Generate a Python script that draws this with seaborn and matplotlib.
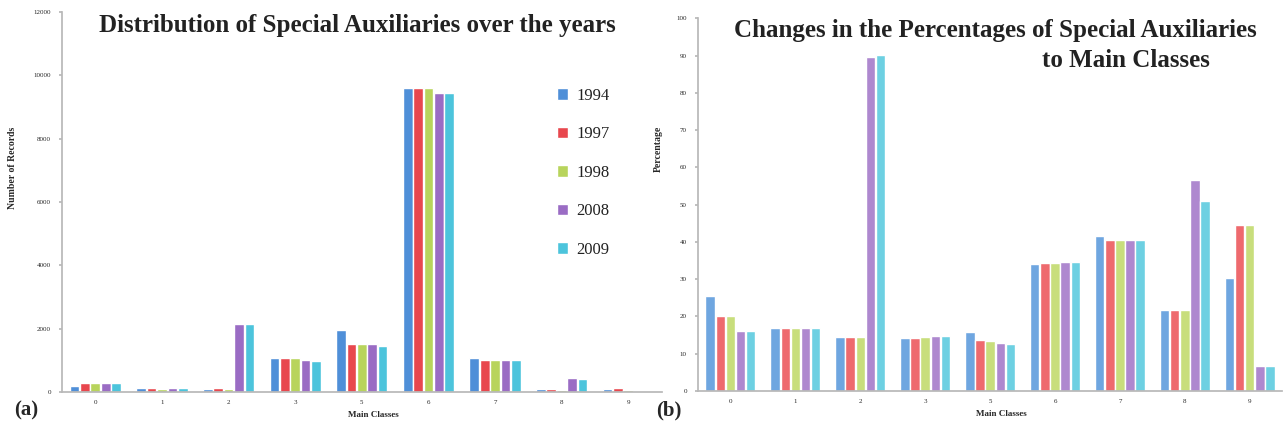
import matplotlib
matplotlib.use("Agg")
import matplotlib.pyplot as plt
import numpy as np
import pandas as pd
import seaborn as sns

# main classes (class 4 is absent in the source)
classes = ['0', '1', '2', '3', '5', '6', '7', '8', '9']
years = ['1994', '1997', '1998', '2008', '2009']

# (a) number of records per class and year
records_1994 = [190, 120, 90, 1080, 1950, 9600, 1090, 90, 100]
records_1997 = [280, 130, 120, 1080, 1520, 9600, 1020, 100, 120]
records_1998 = [280, 110, 90, 1070, 1520, 9600, 1000, 70, 80]
records_2008 = [280, 120, 2150, 1000, 1520, 9450, 1000, 430, 0]
records_2009 = [280, 120, 2150, 980, 1450, 9450, 1000, 410, 0]

# (b) percentage of special auxiliaries to main classes
pct_1994 = [25.5, 17.0, 14.4, 14.2, 15.9, 34.2, 41.6, 21.7, 30.2]
pct_1997 = [20.0, 17.0, 14.4, 14.2, 13.7, 34.3, 40.5, 21.7, 44.5]
pct_1998 = [20.0, 17.0, 14.5, 14.5, 13.5, 34.4, 40.5, 21.7, 44.5]
pct_2008 = [16.2, 17.0, 89.5, 14.7, 12.8, 34.5, 40.5, 56.6, 6.7]
pct_2009 = [16.2, 17.0, 90.1, 14.7, 12.7, 34.5, 40.5, 51.0, 6.7]

colors = ['#4f8fd8', '#e8474e', '#b8d45c', '#9a6cc4', '#4cc4dc']
colors_b = ['#6fa6e0', '#ee6a6e', '#c8de7c', '#ae88cf', '#6dd0e2']


def to_long(series):
    rows = []
    for yr, vals in zip(years, series):
        for c, v in zip(classes, vals):
            rows.append({'cls': c, 'year': yr, 'value': v})
    return pd.DataFrame(rows)


df_a = to_long([records_1994, records_1997, records_1998, records_2008, records_2009])
df_b = to_long([pct_1994, pct_1997, pct_1998, pct_2008, pct_2009])

sns.set_theme(style='white')
plt.rcParams['font.family'] = ['Liberation Serif', 'DejaVu Serif']

fig = plt.figure(figsize=(12.84, 4.28), dpi=100)
ax1 = fig.add_axes([0.0483, 0.084, 0.467, 0.888])
ax2 = fig.add_axes([0.5436, 0.0864, 0.455, 0.871])

sns.barplot(data=df_a, x='cls', y='value', hue='year', order=classes, hue_order=years,
            palette=colors, width=0.78, gap=0.07, ax=ax1, saturation=1, legend=True)
sns.barplot(data=df_b, x='cls', y='value', hue='year', order=classes, hue_order=years,
            palette=colors_b, width=0.78, gap=0.07, ax=ax2, saturation=1, legend=False)

for ax in (ax1, ax2):
    sns.despine(ax=ax)
    ax.spines['left'].set_color('#b8b8b8')
    ax.spines['bottom'].set_color('#b8b8b8')
    ax.set_xlim(-0.5, 8.5)
    ax.tick_params(axis='both', labelsize=5, length=2, color='#b8b8b8', pad=6)
    ax.set_xticks(np.arange(-0.5, 9, 1), minor=True)
    ax.tick_params(axis='x', which='major', length=0)
    ax.tick_params(axis='x', which='minor', length=2, color='#b8b8b8')
    ax.tick_params(axis='y', left=True)
    ax.set_xlabel('Main Classes', fontsize=6.5, fontweight='bold', labelpad=1)
    ax.xaxis.set_label_coords(0.52, -0.05)

ax1.set_ylim(0, 12000)
ax1.set_yticks(np.arange(0, 12001, 2000))
ax1.set_ylabel('Number of Records', fontsize=7, fontweight='bold')
ax1.yaxis.set_label_coords(-0.075, 0.59)

ax2.set_ylim(0, 100)
ax2.set_yticks(np.arange(0, 101, 10))
ax2.set_ylabel('Percentage', fontsize=7, fontweight='bold')
ax2.yaxis.set_label_coords(-0.06, 0.65)

leg = ax1.legend(loc='upper left', bbox_to_anchor=(0.8, 0.84), frameon=False,
                 fontsize=12, labelspacing=1.35, handlelength=0.7, handleheight=0.7,
                 handletextpad=0.5, title=None)
for t in leg.get_texts():
    t.set_color('#222222')

fig.text(0.278, 0.94, 'Distribution of Special Auxiliaries over the years',
         ha='center', va='center', fontsize=18, fontweight='bold', color='#222222')
fig.text(0.775, 0.928, 'Changes in the Percentages of Special Auxiliaries',
         ha='center', va='center', fontsize=18, fontweight='bold', color='#222222')
fig.text(0.877, 0.858, 'to Main Classes',
         ha='center', va='center', fontsize=18, fontweight='bold', color='#222222')

fig.text(0.011, 0.04, '(a)', ha='left', va='center', fontsize=15, fontweight='bold')
fig.text(0.511, 0.04, '(b)', ha='left', va='center', fontsize=15, fontweight='bold')

fig.savefig('out.png', dpi=100)
